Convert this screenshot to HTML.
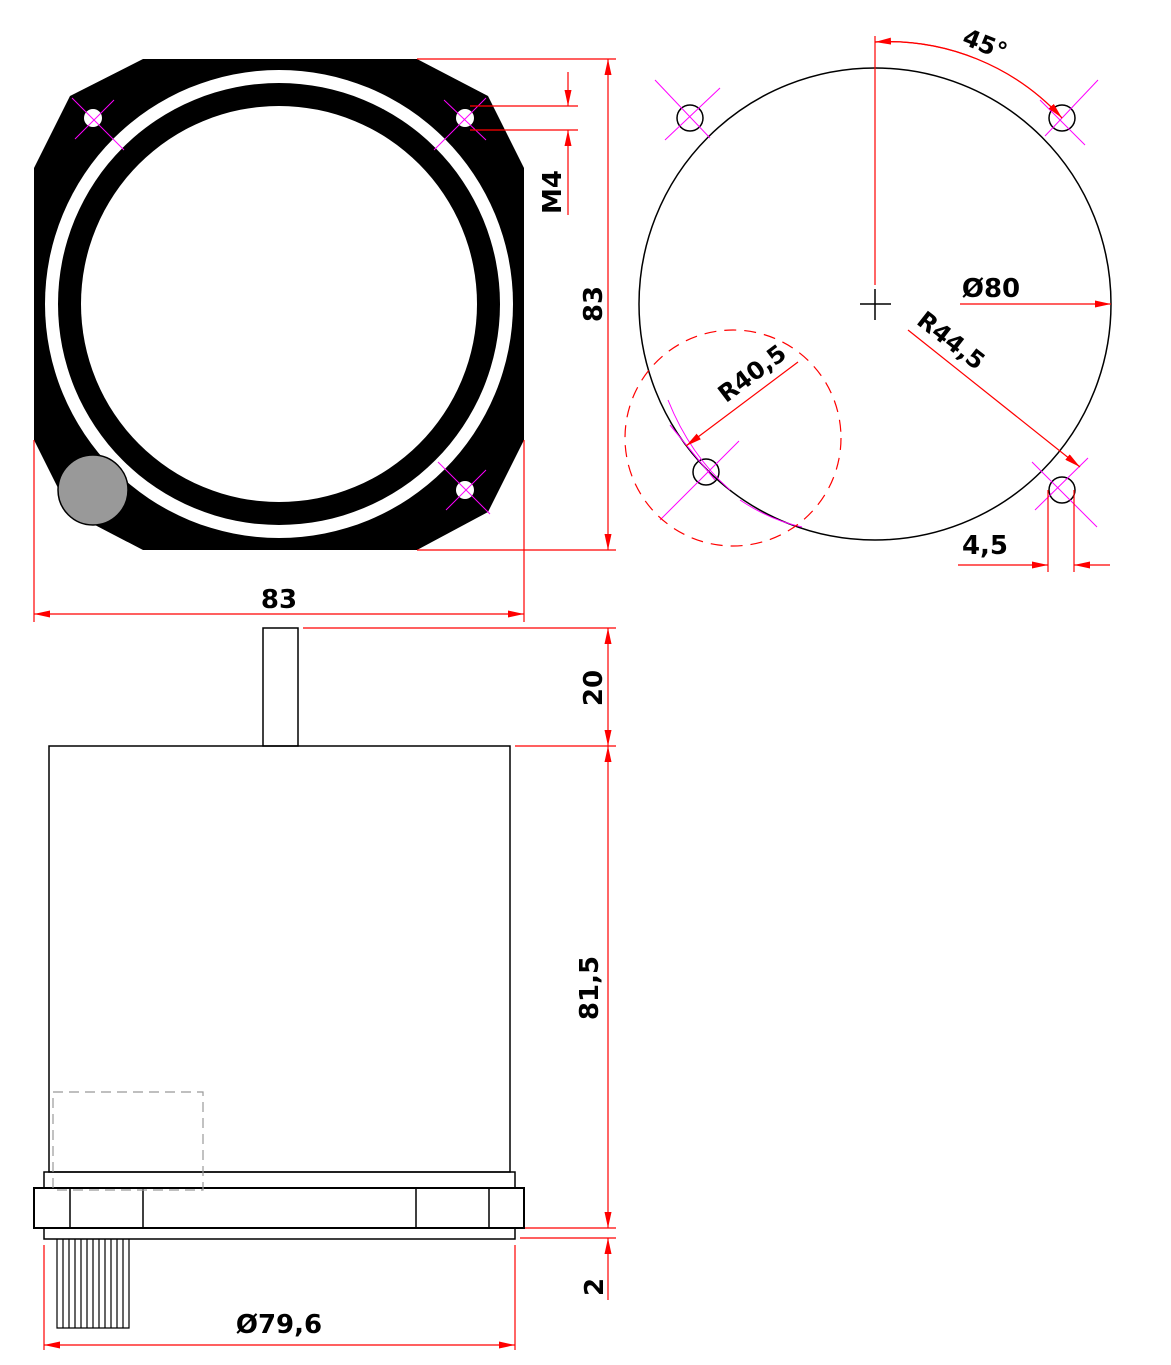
<!DOCTYPE html>
<html><head><meta charset="utf-8"><style>html,body{margin:0;padding:0;background:#fff}svg{display:block}text{font-family:"DejaVu Sans","Liberation Sans",sans-serif;font-weight:bold;fill:#000}</style></head><body>
<svg width="1171" height="1365" viewBox="0 0 1171 1365" xmlns="http://www.w3.org/2000/svg">
<defs>
<marker id="a" viewBox="0 0 16 7" refX="16" refY="3.5" markerWidth="16" markerHeight="7" markerUnits="userSpaceOnUse" orient="auto"><path d="M0,0L16,3.5L0,7z" fill="#f00"/></marker>
</defs>
<!-- front view -->
<polygon points="143,59 417,59 488,96 524,168 524,440 488,512 417,550 143,550 70,512 34,440 34,168 70,96" fill="#000"/>
<circle cx="279" cy="304" r="234" fill="#fff"/>
<circle cx="279" cy="304" r="221" fill="#000"/>
<circle cx="279" cy="304" r="198" fill="#fff"/>
<circle cx="93" cy="118" r="9" fill="#fff"/>
<circle cx="465" cy="118" r="9" fill="#fff"/>
<circle cx="465" cy="490" r="9" fill="#fff"/>
<circle cx="93" cy="490" r="35" fill="#999" stroke="#000" stroke-width="1.5"/>
<g stroke="#f0f" stroke-width="1">
<line x1="72" y1="98" x2="124" y2="150"/><line x1="114" y1="100" x2="75" y2="139"/>
<line x1="486" y1="98" x2="434" y2="150"/><line x1="444" y1="100" x2="486" y2="140"/>
<line x1="486" y1="470" x2="446" y2="510"/><line x1="438" y1="462" x2="490" y2="514"/>
</g>
<g stroke="#f00" stroke-width="1.2" fill="none">
<line x1="470" y1="106" x2="578" y2="106"/><line x1="470" y1="130" x2="578" y2="130"/>
<line x1="568" y1="72" x2="568" y2="106" marker-end="url(#a)"/>
<line x1="568" y1="215" x2="568" y2="130" marker-end="url(#a)"/>
<line x1="417" y1="59" x2="616" y2="59"/><line x1="417" y1="550" x2="616" y2="550"/>
<line x1="608" y1="304" x2="608" y2="59" marker-end="url(#a)"/>
<line x1="608" y1="304" x2="608" y2="550" marker-end="url(#a)"/>
<line x1="34" y1="440" x2="34" y2="622"/><line x1="524" y1="440" x2="524" y2="622"/>
<line x1="279" y1="614" x2="34" y2="614" marker-end="url(#a)"/>
<line x1="279" y1="614" x2="524" y2="614" marker-end="url(#a)"/>
</g>
<text x="0" y="0" font-size="26" text-anchor="middle" transform="translate(561,192) rotate(-90)">M4</text>
<text x="0" y="0" font-size="26" text-anchor="middle" transform="translate(602,304) rotate(-90)">83</text>
<text x="279" y="608" font-size="26" text-anchor="middle">83</text>
<!-- right view -->
<circle cx="875" cy="304" r="236" fill="none" stroke="#000" stroke-width="1.5"/>
<g fill="none" stroke="#000" stroke-width="1.5">
<circle cx="690" cy="118" r="13"/><circle cx="1062" cy="118" r="13"/>
<circle cx="706" cy="472" r="13"/><circle cx="1062" cy="490" r="13"/>
<line x1="860" y1="304" x2="891" y2="304"/><line x1="875" y1="289" x2="875" y2="320"/>
</g>
<g stroke="#f0f" stroke-width="1">
<line x1="655" y1="80" x2="710" y2="138"/><line x1="720" y1="88" x2="665" y2="140"/>
<line x1="1098" y1="80" x2="1045" y2="136"/><line x1="1040" y1="100" x2="1085" y2="145"/>
<line x1="739" y1="441" x2="660" y2="520"/><line x1="670" y1="425" x2="715" y2="480"/>
<line x1="1088" y1="458" x2="1035" y2="510"/><line x1="1032" y1="462" x2="1097" y2="527"/>
<path d="M668,400 Q690,455 730,490 M740,500 Q770,520 802,527" fill="none"/>
</g>
<circle cx="733" cy="438" r="108" fill="none" stroke="#f00" stroke-width="1.2" stroke-dasharray="12,8"/>
<g stroke="#f00" stroke-width="1.2" fill="none">
<line x1="875" y1="36" x2="875" y2="285"/>
<path d="M1062,118 A236,236 0 0 0 875,42" marker-end="url(#a)"/>
<path d="M875,42 A236,236 0 0 1 1062,118" marker-end="url(#a)"/>
<line x1="960" y1="304" x2="1111" y2="304" marker-end="url(#a)"/>
<line x1="908" y1="330" x2="1080" y2="467" marker-end="url(#a)"/>
<line x1="798" y1="362" x2="686" y2="446" marker-end="url(#a)"/>
<line x1="1048" y1="490" x2="1048" y2="572"/><line x1="1074" y1="490" x2="1074" y2="572"/>
<line x1="958" y1="565" x2="1048" y2="565" marker-end="url(#a)"/>
<line x1="1110" y1="565" x2="1074" y2="565" marker-end="url(#a)"/>
</g>
<text x="0" y="0" font-size="24" text-anchor="middle" transform="translate(982,52) rotate(22)">45°</text>
<text x="991" y="297" font-size="26" text-anchor="middle">Ø80</text>
<text x="0" y="0" font-size="24" text-anchor="middle" transform="translate(946,347) rotate(38)">R44,5</text>
<text x="0" y="0" font-size="24" text-anchor="middle" transform="translate(757,380) rotate(-37)">R40,5</text>
<text x="985" y="554" font-size="26" text-anchor="middle">4,5</text>
<!-- side view -->
<g fill="none" stroke="#000" stroke-width="1.5">
<rect x="263" y="628" width="35" height="118"/>
<rect x="49" y="746" width="461" height="426"/>
<rect x="44" y="1172" width="471" height="16"/>
<rect x="34" y="1188" width="490" height="40" stroke-width="2"/>
<line x1="70" y1="1188" x2="70" y2="1228"/><line x1="143" y1="1188" x2="143" y2="1228"/>
<line x1="416" y1="1188" x2="416" y2="1228"/><line x1="489" y1="1188" x2="489" y2="1228"/>
<rect x="44" y="1228" width="471" height="11"/>
<path d="M57,1239V1328H129V1239M63,1239V1328M69,1239V1328M75,1239V1328M81,1239V1328M87,1239V1328M93,1239V1328M99,1239V1328M105,1239V1328M111,1239V1328M117,1239V1328M123,1239V1328" stroke-width="1.2"/>
</g>
<rect x="53" y="1092" width="150" height="98" fill="none" stroke="#999" stroke-width="1.2" stroke-dasharray="10,6"/>
<g stroke="#f00" stroke-width="1.2" fill="none">
<line x1="303" y1="628" x2="616" y2="628"/><line x1="515" y1="746" x2="616" y2="746"/>
<line x1="608" y1="688" x2="608" y2="628" marker-end="url(#a)"/>
<line x1="608" y1="688" x2="608" y2="746" marker-end="url(#a)"/>
<line x1="608" y1="988" x2="608" y2="746" marker-end="url(#a)"/>
<line x1="608" y1="988" x2="608" y2="1228" marker-end="url(#a)"/>
<line x1="525" y1="1228" x2="616" y2="1228"/><line x1="520" y1="1238" x2="616" y2="1238"/>
<line x1="608" y1="1300" x2="608" y2="1238" marker-end="url(#a)"/>
<line x1="44" y1="1245" x2="44" y2="1350"/><line x1="515" y1="1245" x2="515" y2="1350"/>
<line x1="279" y1="1345" x2="44" y2="1345" marker-end="url(#a)"/>
<line x1="279" y1="1345" x2="515" y2="1345" marker-end="url(#a)"/>
</g>
<text x="0" y="0" font-size="26" text-anchor="middle" transform="translate(602,688) rotate(-90)">20</text>
<text x="0" y="0" font-size="26" text-anchor="middle" transform="translate(598,988) rotate(-90)">81,5</text>
<text x="0" y="0" font-size="26" text-anchor="middle" transform="translate(603,1287) rotate(-90)">2</text>
<text x="279" y="1333" font-size="26" text-anchor="middle">Ø79,6</text>
</svg>
</body></html>
